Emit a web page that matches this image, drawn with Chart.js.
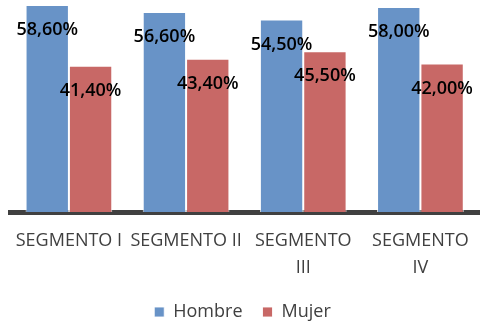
<!DOCTYPE html>
<html>
<head>
<meta charset="utf-8">
<script src="https://cdn.jsdelivr.net/npm/chart.js@4"></script>
<style>
  html, body { margin: 0; padding: 0; background: #fff; }
  #wrap { width: 485px; height: 329px; }
</style>
</head>
<body>
<div id="wrap"><canvas id="segChart"></canvas></div>
<script>
// Chart data
const categories = [['SEGMENTO I'], ['SEGMENTO II'], ['SEGMENTO', 'III'], ['SEGMENTO', 'IV']];
const hombreValues = [58.6, 56.6, 54.5, 58.0];
const mujerValues = [41.4, 43.4, 45.5, 42.0];
const seriesNames = ['Hombre', 'Mujer'];

// Format like "58,60%"
function pct(v) {
    return v.toFixed(2).replace('.', ',') + '%';
}

// Draw the value labels just inside the top of each bar
const barLabels = {
    id: 'barLabels',
    afterDatasetsDraw(chart) {
        const ctx = chart.ctx;
        ctx.save();
        ctx.font = '600 18px "Open Sans"';
        ctx.fillStyle = '#000';
        ctx.textAlign = 'center';
        ctx.textBaseline = 'middle';
        chart.data.datasets.forEach((ds, i) => {
            chart.getDatasetMeta(i).data.forEach((bar, j) => {
                ctx.fillText(pct(ds.data[j]), bar.x, bar.y + 25);
            });
        });
        ctx.restore();
    }
};

// Legend is a bit too tall by default, trim it
const legendTrim = {
    id: 'legendTrim',
    beforeInit(chart) {
        const fit = chart.legend.fit;
        chart.legend.fit = function () {
            fit.call(this);
            this.height -= 2;
        };
    }
};

const ctx = document.getElementById('segChart').getContext('2d');
const myChart = new Chart(ctx, {
    type: 'bar',
    data: {
        labels: categories,
        datasets: [{
            label: seriesNames[0],
            data: hombreValues,
            backgroundColor: '#6893C7',
            borderColor: 'rgba(255,255,255,0.85)',
            borderWidth: 1
        }, {
            label: seriesNames[1],
            data: mujerValues,
            backgroundColor: '#C86866',
            borderColor: 'rgba(255,255,255,0.85)',
            borderWidth: 1
        }]
    },
    options: {
        responsive: true,
        maintainAspectRatio: false,
        animation: false,
        categoryPercentage: 0.74,
        barPercentage: 1,
        layout: { padding: { left: 6, right: 6, top: 0, bottom: 0 } },
        scales: {
            x: {
                grid: { display: false, drawTicks: false },
                border: { color: '#404040', width: 5 },
                ticks: {
                    color: '#404040',
                    padding: 15,
                    maxRotation: 0,
                    autoSkip: false,
                    font: { family: 'Open Sans', size: 18, lineHeight: 1.5 }
                },
                afterFit(scale) {
                    scale.height = 71;
                }
            },
            y: {
                display: false,
                min: 0,
                max: 60
            }
        },
        plugins: {
            tooltip: { enabled: false },
            legend: {
                position: 'bottom',
                labels: {
                    color: '#404040',
                    boxWidth: 10,
                    boxHeight: 10,
                    padding: 20,
                    font: { family: 'Open Sans', size: 18 }
                }
            }
        }
    },
    plugins: [barLabels, legendTrim]
});
</script>
</body>
</html>
